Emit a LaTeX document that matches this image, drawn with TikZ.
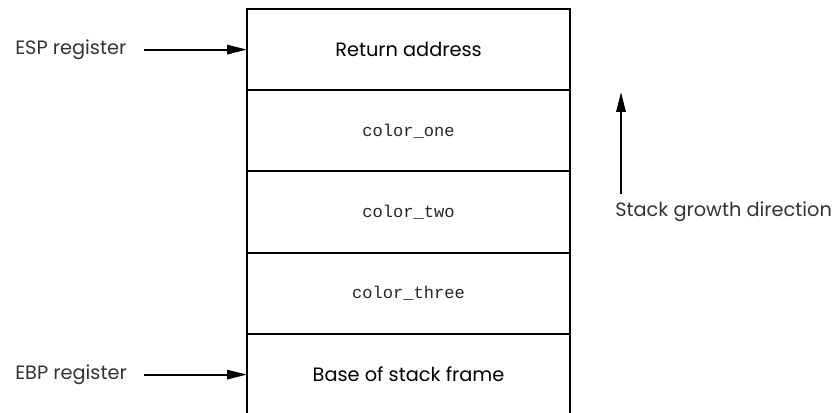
\documentclass[tikz,border=0pt]{standalone}
\usepackage{fontspec}
\setmainfont{Poppins}
\setmonofont{Liberation Mono}
\usetikzlibrary{arrows.meta}

\tikzset{
	cell/.style={draw, line width=1.4pt, minimum width=242.25pt, minimum height=60.9pt,
		outer sep=0pt, inner sep=0pt},
	lbl/.style={inner sep=0pt, font=\fontsize{14.5}{16}\selectfont, text=black!80},
	code/.style={font=\ttfamily\fontsize{12.8}{14}\selectfont, text=black!85},
	push/.style={line width=1.6pt, -{Triangle[length=15pt,width=7pt]}}
}

\begin{document}
\begin{tikzpicture}[x=0.75pt, y=-0.75pt]
	\useasboundingbox (0,0) rectangle (836,413);

	% the stack frame, top to bottom
	\node [cell] (ret)   at (408.5,49.6)  {\fontsize{14.5}{16}\selectfont Return address};
	\node [cell,code] (one)   at (408.5,130.8) {color\_one};
	\node [cell,code] (two)   at (408.5,212.1) {color\_two};
	\node [cell,code] (three) at (408.5,293.4) {color\_three};
	\node [cell] (base)  at (408.5,374.6) {\fontsize{14.5}{16}\selectfont Base of stack frame};

	% registers
	\node [lbl, anchor=west] (esp) at (15,49.6) {ESP register};
	\node [lbl, anchor=west] (ebp) at (15,374.6) {EBP register};
	\draw [push, shorten <=13pt] (esp.east) -- (ret.west);
	\draw [push, shorten <=13pt] (ebp.east) -- (base.west);

	% growth
	\node [lbl, anchor=west] (grow) at (615,212) {Stack growth direction};
	\coordinate (gtip) at (621,92);
	\draw [push] (gtip |- grow.north) ++(0,-8) -- (gtip);
\end{tikzpicture}
\end{document}
